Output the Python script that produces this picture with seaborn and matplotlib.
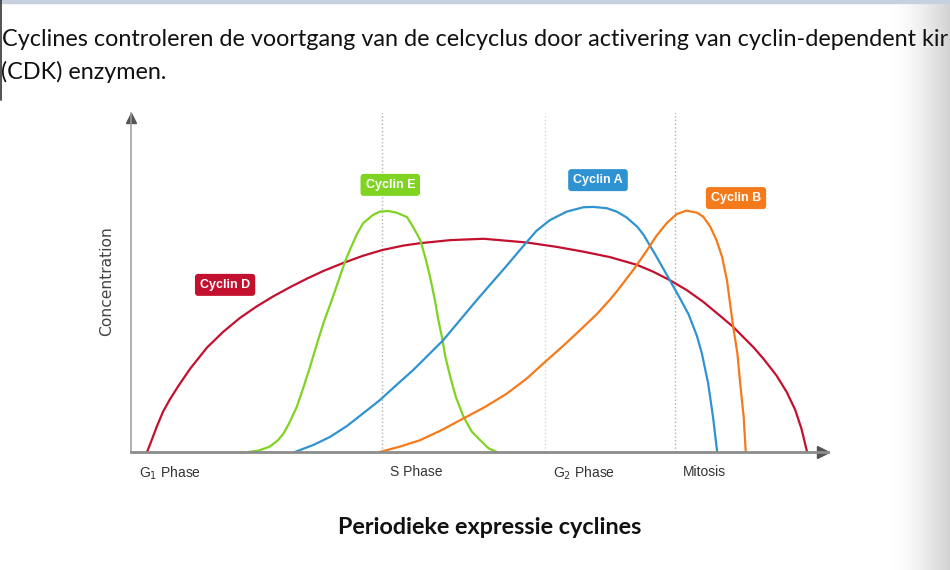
import numpy as np
import pandas as pd
import matplotlib.pyplot as plt
import seaborn as sns
from matplotlib.colors import LinearSegmentedColormap
from matplotlib.transforms import ScaledTranslation

# cell-cycle time (0-100, arrow tip = 100) and concentration (0-100, arrow tip = 100)
d_time = [2.3, 2.8, 3.7, 4.6, 5.6, 7.0, 8.5, 10.9, 13.2, 15.6, 18.0, 20.4, 22.8, 25.2,
          27.6, 30.5, 33.3, 36.1, 39.1, 41.5, 45.8, 50.6, 56.8, 61.1, 64.9, 68.7, 72.6,
          74.9, 77.3, 79.7, 82.1, 84.5, 86.4, 89.3, 90.7, 92.6, 94.1, 95.3, 96.2, 97.0]
d_conc = [0.0, 2.6, 7.5, 11.9, 15.6, 20.1, 24.6, 30.8, 35.4, 39.5, 42.9, 45.9, 48.6, 51.1,
          53.4, 55.8, 57.9, 59.6, 60.9, 61.6, 62.5, 62.9, 61.8, 60.5, 59.1, 57.5, 55.2,
          53.2, 50.7, 47.8, 44.3, 40.2, 36.9, 30.9, 27.6, 22.6, 17.6, 12.4, 6.8, 0.0]

e_time = [16.8, 18.3, 19.9, 21.1, 21.9, 22.8, 23.8, 24.7, 25.7, 26.5, 27.6, 28.8, 30.7,
          31.4, 32.4, 33.3, 34.7, 35.7, 36.9, 38.1, 39.6, 40.5, 41.5, 42.2, 42.9, 43.6,
          44.1, 44.6, 45.1, 45.8, 46.6, 47.7, 48.9, 50.1, 51.3, 52.5]
e_conc = [0.0, 0.4, 1.6, 3.5, 5.5, 8.9, 13.4, 18.8, 25.2, 30.7, 38.0, 44.8, 56.1,
          59.6, 64.2, 67.5, 69.9, 70.9, 71.1, 70.6, 69.3, 66.3, 62.5, 57.6, 51.7, 44.8,
          38.9, 34.0, 28.1, 22.2, 16.3, 10.4, 6.0, 3.5, 1.1, 0.0]

a_time = [23.5, 26.2, 28.6, 31.0, 33.3, 35.7, 38.1, 40.5, 42.9, 44.8, 47.2, 49.6, 51.5,
          53.5, 56.8, 58.2, 60.1, 62.5, 64.9, 66.3, 68.3, 69.7, 71.1, 72.6, 73.5, 75.4,
          77.3, 78.5, 80.0, 81.2, 81.9, 82.8, 83.5, 84.1]
a_conc = [0.0, 2.1, 4.5, 7.7, 11.4, 15.3, 19.8, 24.2, 29.1, 33.0, 38.9, 44.8, 49.3,
          54.0, 62.0, 65.3, 68.4, 70.9, 72.2, 72.3, 71.9, 70.9, 69.2, 66.5, 64.2, 57.6,
          50.7, 46.3, 40.6, 34.2, 29.1, 20.3, 10.4, 0.0]

b_time = [35.7, 38.6, 41.5, 44.6, 47.7, 50.8, 53.9, 56.8, 59.2, 62.0, 64.4, 66.8, 68.7,
          69.7, 72.1, 74.0, 75.4, 76.9, 78.3, 79.7, 81.2, 82.1, 83.1, 84.0, 84.8, 85.5,
          86.4, 87.0, 87.4, 87.9, 88.2]
b_conc = [0.0, 1.6, 3.5, 6.5, 9.9, 13.3, 17.2, 21.7, 26.2, 31.3, 35.9, 40.6, 44.9,
          47.4, 53.8, 59.4, 63.8, 67.6, 70.2, 71.2, 70.6, 69.4, 66.5, 62.5, 57.6, 50.7,
          36.9, 29.1, 20.3, 10.4, 0.0]

phase_pos = [0.0, 36.0, 59.4, 78.1]
phase_labels = ['G$_1$ Phase', 'S Phase', 'G$_2$ Phase', 'Mitosis']

colors = {'Cyclin D': '#c3102f', 'Cyclin E': '#7fd321',
          'Cyclin A': '#2f93d1', 'Cyclin B': '#f47a1c'}

df = pd.concat([
    pd.DataFrame({'time': d_time, 'conc': d_conc, 'cyclin': 'Cyclin D'}),
    pd.DataFrame({'time': e_time, 'conc': e_conc, 'cyclin': 'Cyclin E'}),
    pd.DataFrame({'time': a_time, 'conc': a_conc, 'cyclin': 'Cyclin A'}),
    pd.DataFrame({'time': b_time, 'conc': b_conc, 'cyclin': 'Cyclin B'}),
])

sns.set_theme(style='white')
plt.rcParams['font.family'] = ['Lato', 'DejaVu Sans']
narrow = ['Liberation Sans Narrow', 'Liberation Sans', 'DejaVu Sans']

fig = plt.figure(figsize=(9.5, 5.7), dpi=100)

# slide background: top strip, left edge line, right shadow
bg = fig.add_axes([0, 0, 1, 1], zorder=0)
bg.set_xlim(0, 950)
bg.set_ylim(570, 0)
bg.axis('off')
shade = LinearSegmentedColormap.from_list('shade', ['#ffffff', '#d2d2d2'])
bg.imshow(np.linspace(0, 1, 100)[None, :] ** 1.6, extent=(890, 950, 570, 0),
          cmap=shade, aspect='auto')
bg.axhspan(0, 3, color='#c6d0de')
bg.plot([0.8, 0.8], [0, 100], color='#444444', lw=1.3)

# slide text (the first line runs off the slide in the screenshot)
fig.text(2 / 950, 1 - 40 / 570,
         'Cyclines controleren de voortgang van de celcyclus door activering van cyclin-dependent kir',
         fontsize=16.8, ha='left', va='center', color='#111111')
fig.text(1 / 950, 1 - 72 / 570, '(CDK) enzymen.', fontsize=16.8,
         ha='left', va='center', color='#111111')

ax = fig.add_axes([131 / 950, 118 / 570, 697 / 950, 339 / 570], zorder=1)
ax.patch.set_alpha(0)

sns.lineplot(data=df, x='time', y='conc', hue='cyclin', palette=colors,
             estimator=None, sort=False, lw=1.6, legend=False, ax=ax)

ax.set_xlim(0, 100)
ax.set_ylim(0, 100)
ax.vlines(phase_pos[1:], 0, 101, colors=['#b0b0b0', '#d6d6d6', '#b0b0b0'],
          linestyles=':', lw=1.0, zorder=0)

for side in ['top', 'right']:
    ax.spines[side].set_visible(False)
ax.spines['bottom'].set_color('#8c8c8c')
ax.spines['bottom'].set_linewidth(2.0)
ax.spines['left'].set_color('#9a9a9a')
ax.spines['left'].set_linewidth(1.1)
ax.plot(0.993, 0, '>', color='#555555', ms=8, transform=ax.transAxes, clip_on=False)
ax.plot(0, 0.985, '^', color='#555555', ms=7, transform=ax.transAxes, clip_on=False)

ax.set_yticks([])
ax.set_xticks(phase_pos)
ax.set_xticklabels(phase_labels, ha='left', fontsize=10, family=narrow, color='#333333')
ax.tick_params(axis='x', length=0, pad=9)
for lab in ax.get_xticklabels():
    lab.set_transform(lab.get_transform() + ScaledTranslation(8 / 100, 0, fig.dpi_scale_trans))
ax.set_xlabel('')
ax.set_ylabel('')

label_pos = {'Cyclin D': (13.5, 49.3), 'Cyclin E': (37.2, 78.8),
             'Cyclin A': (67.0, 80.2), 'Cyclin B': (86.8, 74.9)}
for name, (lx, ly) in label_pos.items():
    ax.text(lx, ly, name, color='white', fontsize=9, fontweight='bold', family=narrow,
            ha='center', va='center',
            bbox=dict(boxstyle='round,pad=0.4,rounding_size=0.25', fc=colors[name], ec='none'))

fig.text(107 / 950, 1 - 281 / 570, 'Concentration', rotation=90, ha='center', va='center',
         fontsize=11.2, color='#444444', family=['DejaVu Sans'])
fig.text(490 / 950, 1 - 527 / 570, 'Periodieke expressie cyclines', fontsize=16.8,
         fontweight='bold', ha='center', va='center', color='#111111')

fig.savefig('out.png', dpi=100)
